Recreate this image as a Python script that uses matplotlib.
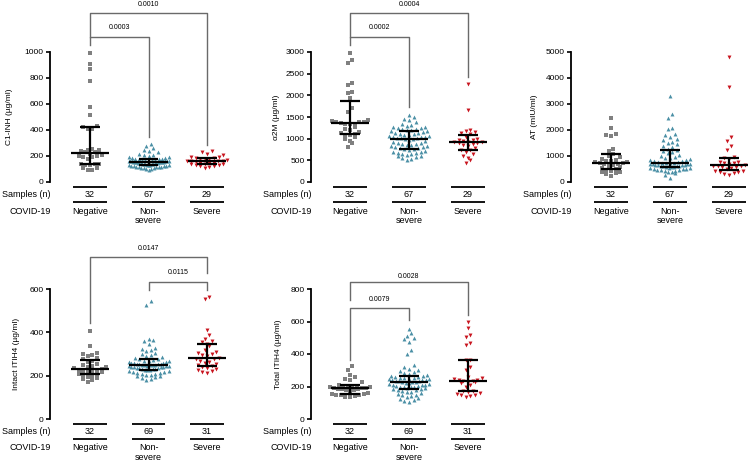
import numpy as np
import matplotlib.pyplot as plt

plt.rcParams['font.family'] = ['Liberation Sans', 'DejaVu Sans']

# groups and styles
groups = ['Negative', 'Non-severe', 'Severe']
colors = ['#808080', '#4a8fa5', '#c8141e']
markers = ['s', '^', 'v']
marker_sizes = [5, 8, 8]

# C1-INH (ug/ml)
c1inh_neg = [995, 910, 870, 780, 580, 515, 430, 425, 410, 405, 255, 250, 248, 240, 230, 228,
             215, 205, 200, 198, 195, 190, 180, 140, 138, 135, 132, 130, 110, 105, 95, 90]
c1inh_non = [290, 275, 262, 250, 238, 228, 218, 210, 205, 200, 195, 190, 186, 183, 180, 177,
             175, 174, 172, 170, 168, 167, 165, 164, 162, 161, 160, 159, 158, 157, 157, 156, 155,
             155,
             154, 152, 150, 149, 148, 146, 145, 143, 142, 140, 138, 137, 135, 133, 132, 130, 128,
             127, 125, 123, 121, 120, 118, 116, 115, 113, 112, 110, 108, 105, 102, 100, 95]
c1inh_sev = [238, 230, 215, 205, 195, 190, 185, 182, 180, 178, 175, 170, 165, 162, 160,
             158, 155, 150, 148, 145, 140, 138, 135, 130, 128, 125, 120, 112, 105]

# alpha2M (ug/ml)
a2m_neg = [2985, 2815, 2755, 2290, 2230, 2080, 2050, 1940, 1700, 1610, 1420, 1400, 1390, 1380, 1375, 1360,
           1350, 1340, 1330, 1260, 1220, 1200, 1150, 1130, 1100, 1090, 1080, 1050, 1000, 950, 900, 800]
a2m_non = [1550, 1510, 1460, 1420, 1380, 1340, 1320, 1300, 1280, 1260, 1250, 1240, 1230, 1220, 1200, 1190,
           1180, 1170, 1150, 1140, 1120, 1110, 1100, 1090, 1080, 1070, 1060, 1050, 1040, 1030, 1020, 1010, 1005,
           1000,
           990, 970, 950, 930, 910, 900, 880, 870, 860, 850, 840, 820, 810, 800, 790, 780, 765,
           755, 740, 720, 700, 690, 680, 660, 650, 640, 620, 600, 590, 570, 550, 530, 510]
a2m_sev = [2260, 1660, 1190, 1180, 1150, 1120, 1100, 1050, 1000, 980, 960, 940, 930, 920, 915,
           910, 900, 880, 860, 820, 780, 750, 740, 700, 650, 600, 550, 500, 430]

# AT (mIU/ml)
at_neg = [2450, 2070, 1860, 1820, 1780, 1270, 1190, 1080, 1000, 950, 900, 850, 820, 800, 780, 760,
          740, 720, 700, 680, 650, 620, 560, 520, 490, 460, 430, 400, 380, 350, 300, 240]
at_non = [3300, 2620, 2450, 2060, 2030, 1850, 1800, 1720, 1650, 1600, 1550, 1500, 1450, 1400, 1350, 1280,
          1240, 1200, 1150, 1100, 1050, 1000, 970, 940, 910, 880, 850, 830, 810, 790, 770, 760, 750,
          740,
          730, 720, 710, 700, 690, 680, 670, 660, 650, 640, 630, 620, 610, 600, 580, 570, 560,
          545, 530, 520, 510, 500, 490, 480, 470, 450, 430, 410, 390, 370, 330, 280, 170]
at_sev = [4820, 3640, 1720, 1560, 1380, 1230, 960, 910, 900, 780, 760, 740, 720, 700, 650,
          630, 610, 600, 580, 560, 540, 500, 430, 420, 400, 380, 350, 310, 280]

# Intact ITIH4 (ug/ml)
itih4i_neg = [405, 335, 305, 300, 295, 290, 280, 275, 270, 265, 255, 250, 245, 240, 238, 235,
              230, 228, 225, 222, 220, 218, 215, 210, 208, 205, 200, 195, 190, 185, 178, 172]
itih4i_non = [545, 525, 370, 365, 360, 345, 330, 325, 320, 315, 305, 300, 295, 290, 285, 280, 278,
              275, 272, 270, 268, 266, 264, 262, 260, 258, 257, 255, 254, 253, 252, 251, 250, 249,
              248,
              247, 246, 245, 244, 243, 242, 241, 240, 238, 236, 235, 234, 232, 231, 230, 228, 227,
              225, 222, 220, 218, 216, 214, 212, 210, 208, 205, 202, 200, 198, 195, 190, 185, 180]
itih4i_sev = [565, 555, 410, 390, 370, 362, 355, 345, 335, 320, 310, 305, 300, 295, 290,
              280, 278, 275, 270, 265, 260, 255, 250, 245, 240, 235, 230, 225, 220, 215, 212]

# Total ITIH4 (ug/ml)
itih4t_neg = [325, 300, 270, 260, 245, 240, 225, 210, 205, 202, 200, 198, 196, 194, 192, 190,
              188, 186, 184, 182, 180, 178, 170, 160, 155, 152, 150, 148, 145, 142, 138, 133]
itih4t_non = [555, 530, 510, 500, 490, 475, 425, 400, 330, 320, 310, 300, 295, 290, 285, 280, 270,
              265, 262, 260, 258, 255, 252, 250, 248, 246, 244, 242, 240, 238, 236, 234, 232, 230,
              228,
              225, 222, 220, 218, 215, 212, 210, 208, 205, 202, 200, 198, 196, 194, 192, 190, 187,
              184, 180, 176, 172, 168, 164, 160, 155, 150, 145, 140, 135, 130, 125, 118, 112, 107]
itih4t_sev = [598, 560, 515, 505, 470, 455, 365, 362, 320, 300, 260, 250, 245, 242, 240,
              236, 234, 230, 225, 220, 210, 200, 175, 170, 165, 160, 155, 150, 145, 140, 137]

samples_top = [32, 67, 29]
samples_bottom = [32, 69, 31]

panels = [
    dict(ylabel='C1-INH (µg/ml)', ymax=1000, step=200,
         data=[c1inh_neg, c1inh_non, c1inh_sev], n=samples_top,
         pvals=[(0, 1, '0.0003'), (0, 2, '0.0010')]),
    dict(ylabel='α2M (µg/ml)', ymax=3000, step=500,
         data=[a2m_neg, a2m_non, a2m_sev], n=samples_top,
         pvals=[(0, 1, '0.0002'), (0, 2, '0.0004')]),
    dict(ylabel='AT (mIU/ml)', ymax=5000, step=1000,
         data=[at_neg, at_non, at_sev], n=samples_top, pvals=[]),
    dict(ylabel='Intact ITIH4 (µg/ml)', ymax=600, step=200,
         data=[itih4i_neg, itih4i_non, itih4i_sev], n=samples_bottom,
         pvals=[(0, 2, '0.0147'), (1, 2, '0.0115')]),
    dict(ylabel='Total ITIH4 (µg/ml)', ymax=800, step=200,
         data=[itih4t_neg, itih4t_non, itih4t_sev], n=samples_bottom,
         pvals=[(0, 2, '0.0028'), (0, 1, '0.0079')]),
]

# layout in pixels: spine x, first category x, category spacing, y of zero line, ylabel offset
layout = [
    dict(spine=50, cat0=90, sp=58.5, y0=182, lab=-37),
    dict(spine=311, cat0=350, sp=59, y0=182, lab=-31),
    dict(spine=571, cat0=611, sp=59, y0=182, lab=-33),
    dict(spine=50, cat0=90, sp=58.5, y0=419, lab=-30),
    dict(spine=311, cat0=350, sp=59, y0=419, lab=-29),
]
# bracket geometry (data units): line y, left leg bottom, right leg bottom, text y
bracket_geom = [
    [(1115, 1054, 346, 1185), (1300, 1115, 285, 1362)],
    [(3346, 3162, 1731, 3554), (3900, 3346, 2423, 4085)],
    [],
    [(748, 443, 674, 785), (632, 595, 595, 674)],
    [(843, 732, 640, 880), (683, 363, 609, 738)],
]

FW, FH = 750, 463
AXW, AXH = 178, 130


def row_offsets(vals, ppu, row_h=4.5, dx=4.6, max_half=20.0):
    # Prism-like scatter: bin points into rows, fill each row from the centre outwards
    y = np.asarray(vals, float) * ppu
    order = np.argsort(y)
    xs = np.zeros(len(y))
    rows, cur, start = [], [], None
    for i in order:
        if start is None or y[i] - start > row_h:
            if cur:
                rows.append(cur)
            cur, start = [i], y[i]
        else:
            cur.append(i)
    if cur:
        rows.append(cur)
    for r in rows:
        m = len(r)
        if m == 1:
            continue
        step = min(dx, 2 * max_half / (m - 1))
        slots = (np.arange(m) - (m - 1) / 2) * step
        slots = slots[np.argsort(np.abs(slots) + 1e-6 * np.arange(m))]
        for i, s in zip(r, slots):
            xs[i] = s
    return xs


fig = plt.figure(figsize=(7.5, 4.63), dpi=100)

for p, lay, brk in zip(panels, layout, bracket_geom):
    ax = fig.add_axes([lay['spine'] / FW, (FH - lay['y0']) / FH, AXW / FW, AXH / FH])
    x0 = -(lay['cat0'] - lay['spine']) / lay['sp']
    ax.set_xlim(x0, x0 + AXW / lay['sp'])
    ax.set_ylim(0, p['ymax'])
    ppu = AXH / p['ymax']

    for k, vals in enumerate(p['data']):
        off = row_offsets(vals, ppu) / lay['sp']
        ax.scatter(k + off, vals, s=marker_sizes[k], marker=markers[k], color=colors[k],
                   linewidths=0, clip_on=False, zorder=2)
        q1, med, q3 = np.percentile(vals, [25, 50, 75], method='weibull')
        kw = dict(color='black', lw=1.6, zorder=3, solid_capstyle='butt', clip_on=False)
        ax.plot([k - 0.33, k + 0.33], [med, med], **kw)
        ax.plot([k, k], [q1, q3], **kw)
        ax.plot([k - 0.17, k + 0.17], [q1, q1], **kw)
        ax.plot([k - 0.17, k + 0.17], [q3, q3], **kw)

    for (i, j, ptxt), (ly, lb, rb, ty) in zip(p['pvals'], brk):
        ax.plot([i, i, j, j], [lb, ly, ly, rb], color='#6a6a6a', lw=1.0, clip_on=False)
        ax.text((i + j) / 2, ty, ptxt, ha='center', va='center', fontsize=5)

    # axes styling
    for s in ['top', 'right', 'bottom']:
        ax.spines[s].set_visible(False)
    ax.spines['left'].set_linewidth(1.3)
    ax.set_xticks([])
    ax.set_yticks(np.arange(0, p['ymax'] + 1, p['step']))
    ax.tick_params(axis='y', direction='out', length=3, width=1.2, labelsize=6, pad=1.5)
    ax.set_ylabel(p['ylabel'], fontsize=6)
    ax.yaxis.set_label_coords(lay['lab'] / AXW, 0.5)

    # sample table under the plot
    tr = ax.get_xaxis_transform()
    for k in range(3):
        for ly in (5, 20):
            ax.plot([k - 0.29, k + 0.29], [-ly / AXH] * 2, transform=tr, color='black',
                    lw=1.3, clip_on=False, solid_capstyle='butt')
        ax.text(k, -12.5 / AXH, str(p['n'][k]), transform=tr, ha='center', va='center', fontsize=6.5)
    ax.text(0, -29 / AXH, 'Negative', transform=tr, ha='center', va='center', fontsize=6.5)
    ax.text(1, -29 / AXH, 'Non-', transform=tr, ha='center', va='center', fontsize=6.5)
    ax.text(1, -38.5 / AXH, 'severe', transform=tr, ha='center', va='center', fontsize=6.5)
    ax.text(2, -29 / AXH, 'Severe', transform=tr, ha='center', va='center', fontsize=6.5)
    ax.text(0.005, -12.5 / AXH, 'Samples (n)', transform=ax.transAxes, ha='right',
            va='center', fontsize=6.5)
    ax.text(0.005, -29 / AXH, 'COVID-19', transform=ax.transAxes, ha='right',
            va='center', fontsize=6.5)

fig.savefig('out.png', dpi=100)
